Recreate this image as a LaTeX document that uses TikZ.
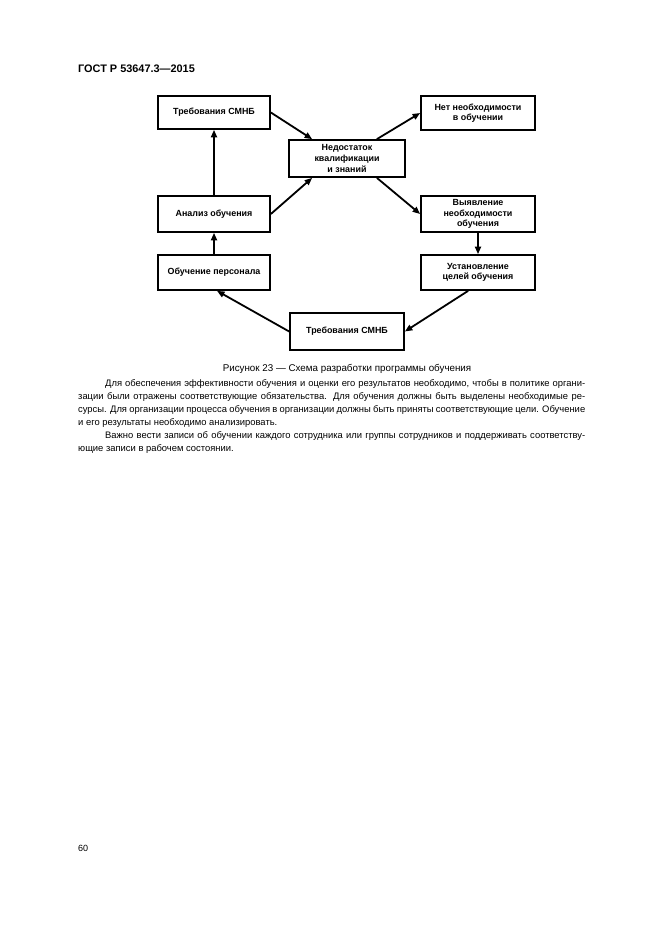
\documentclass[tikz,border=0pt]{standalone}
\usepackage{fontspec}
\setmainfont{Liberation Sans}
\usetikzlibrary{arrows.meta,calc}
\begin{document}
\begin{tikzpicture}[x=1pt,y=-1pt,
  box/.style={draw=black,line width=1.7pt,fill=white,inner sep=1pt,align=center,
    font=\fontsize{8.9}{10.6}\selectfont\bfseries},
  arr/.style={line width=1.8pt,-{Triangle[length=7.5pt,width=6pt]}},
  bodyline/.style={anchor=base west,inner sep=0pt,font=\fontsize{9.4}{13}\selectfont}]
\useasboundingbox[fill=white] (0,0) rectangle (661,935);
% header
\node[anchor=base west,inner sep=0pt,font=\fontsize{10.9}{12}\selectfont\bfseries] (hdr) at (78,72) {ГОСТ Р 53647.3—2015};
% boxes
\node[box,minimum width=112pt,minimum height=33pt] (A) at (214,112.5) {Требования СМНБ};
\node[box,minimum width=116pt,minimum height=37pt] (C) at (347,158.5) {Недостаток\\квалификации\\и знаний};
\node[box,minimum width=114pt,minimum height=34pt] (N) at (478,113) {Нет необходимости\\в обучении};
\node[box,minimum width=114pt,minimum height=36pt] (V) at (478,214) {Выявление\\необходимости\\обучения};
\node[box,minimum width=114pt,minimum height=35pt] (U) at (478,272.5) {Установление\\целей обучения};
\node[box,minimum width=112pt,minimum height=36pt] (An) at (214,214) {Анализ обучения};
\node[box,minimum width=112pt,minimum height=35pt] (O) at (214,272.5) {Обучение персонала};
\node[box,minimum width=114pt,minimum height=37pt] (B) at (347,331.5) {Требования СМНБ};
% connectors
\coordinate (c1) at ($(C.north west)+(24,0)$);
\coordinate (c2) at ($(C.north east)+(-29,0)$);
\coordinate (c3) at ($(C.south west)+(24,0)$);
\coordinate (c4) at ($(C.south east)+(-29,0)$);
\coordinate (u1) at ($(U.south west)+(48,0)$);
\coordinate (o1) at ($(O.south)+(3,0)$);
\draw[arr] (A.east) -- (c1);
\draw[arr] (c2) -- (N.west);
\draw[arr] (An.east) -- (c3);
\draw[arr] (c4) -- (V.west);
\draw[arr] (An.north) -- (A.south);
\draw[arr] (O.north) -- (An.south);
\draw[arr] (V.south) -- (U.north);
\draw[arr] (u1) -- (B.east);
\draw[arr] (B.west) -- (o1);
% caption
\node[anchor=base,inner sep=0pt,font=\fontsize{9.8}{11}\selectfont] (cap) at (347,371) {Рисунок 23 — Схема разработки программы обучения};
% body text
\node[bodyline] (l1) at (78,386) {\hspace*{27pt}\makebox[480pt][s]{Для обеспечения эффективности обучения и оценки его результатов необходимо, чтобы в политике органи-}};
\node[bodyline] (l2) at (78,399) {\makebox[507pt][s]{зации были отражены соответствующие обязательства. Для обучения должны быть выделены необходимые ре-}};
\node[bodyline] (l3) at (78,412) {\makebox[507pt][s]{сурсы. Для организации процесса обучения в организации должны быть приняты соответствующие цели. Обучение}};
\node[bodyline] (l4) at (78,425) {и его результаты необходимо анализировать.};
\node[bodyline] (l5) at (78,438) {\hspace*{27pt}\makebox[480pt][s]{Важно вести записи об обучении каждого сотрудника или группы сотрудников и поддерживать соответству-}};
\node[bodyline] (l6) at (78,451) {ющие записи в рабочем состоянии.};
% page number
\node[anchor=base west,inner sep=0pt,font=\fontsize{9}{11}\selectfont] (pg) at (78,851) {60};
\end{tikzpicture}
\end{document}
